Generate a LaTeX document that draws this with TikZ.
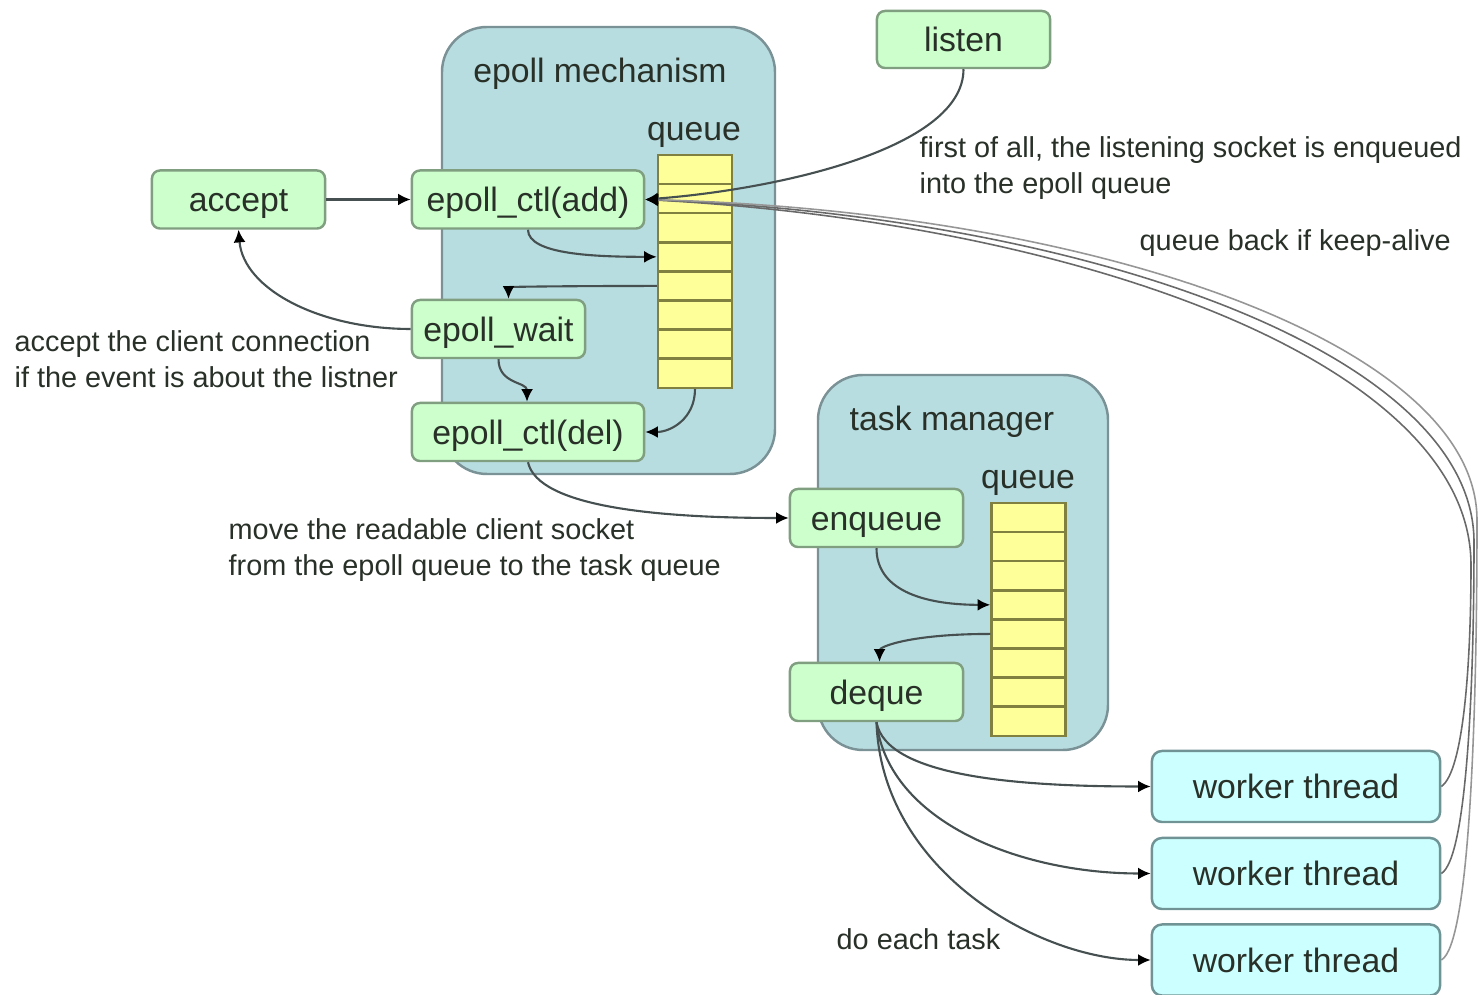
\documentclass[tikz,border=0pt]{standalone}
\usepackage{fontspec}
\setmainfont{Liberation Sans}
\usetikzlibrary{arrows.meta}

\definecolor{boxfill}{RGB}{184,221,225}
\definecolor{boxline}{RGB}{122,146,150}
\definecolor{opfill}{RGB}{204,255,204}
\definecolor{opline}{RGB}{128,158,128}
\definecolor{wkfill}{RGB}{204,255,255}
\definecolor{wkline}{RGB}{112,148,150}
\definecolor{qfill}{RGB}{255,255,153}
\definecolor{qline}{RGB}{128,128,64}
\definecolor{ink}{RGB}{40,48,40}
\definecolor{linkc}{RGB}{70,80,80}
\definecolor{backc}{RGB}{105,105,105}

\begin{document}
\begin{tikzpicture}[x=0.01cm,y=-0.01cm,
  container/.style={draw=boxline,fill=boxfill,line width=0.7pt,rounded corners=0.45cm},
  op/.style={draw=opline,fill=opfill,rounded corners=0.08cm,line width=0.7pt,
    inner sep=0pt,minimum height=0.58cm,minimum width=1.73cm,text=ink,
    text height=0.86em,text depth=0.16em,
    font=\fontsize{9.6}{11}\selectfont},
  wide/.style={minimum width=2.32cm},
  worker/.style={op,fill=wkfill,draw=wkline,minimum height=0.71cm,
    minimum width=2.88cm,rounded corners=0.1cm},
  cell/.style={draw=qline,fill=qfill,minimum width=0.74cm,minimum height=0.291cm,
    inner sep=0pt,line width=0.7pt},
  title/.style={font=\fontsize{9.6}{11}\selectfont,text=ink,inner sep=0pt,
    text height=0.86em,text depth=0.16em},
  note/.style={font=\fontsize{8.2}{10.2}\selectfont,text=ink,align=left,
    anchor=west,inner sep=0pt},
  tip/.style={-{Latex[length=3.6pt,width=3.4pt,color=black]}},
  link/.style={draw=linkc,line width=0.6pt,tip},
  back/.style={draw=backc,line width=0.45pt,tip}]

\useasboundingbox (0,0) rectangle (1478,995);

% containers
\draw[container] (442,27) rectangle (775,474);
\draw[container] (818,375) rectangle (1108,750);
\node[title] (t1) at (600,70) {epoll mechanism};
\node[title] (t2) at (694,128) {queue};
\node[title] (t3) at (952,418) {task manager};
\node[title] (t4) at (1028,476) {queue};

% queues
\foreach \i in {1,...,8}{
  \node[cell] (q\i) at (695,{169.55+29.1*(\i-1)}) {};
  \node[cell] (p\i) at (1028.5,{517.55+29.1*(\i-1)}) {};
}

% operations
\node[op] (accept) at (238.5,199.5) {accept};
\node[op,wide] (add) at (528,199.5) {epoll\_ctl(add)};
\node[op] (wait) at (498.5,329) {epoll\_wait};
\node[op,wide] (del) at (528,432) {epoll\_ctl(del)};
\node[op,minimum height=0.57cm] (listen) at (963.5,39.5) {listen};
\node[op] (enq) at (876.5,518) {enqueue};
\node[op] (deq) at (876.5,692) {deque};
\node[worker] (w1) at (1296,786.5) {worker thread};
\node[worker] (w2) at (1296,873.5) {worker thread};
\node[worker] (w3) at (1296,960) {worker thread};

% notes
\node[note] (n1) at (919,168) {first of all, the listening socket is enqueued\\into the epoll queue};
\node[note] (n2) at (1139,243) {queue back if keep-alive};
\node[note] (n3) at (14,359) {accept the client connection\\if the event is about the listner};
\node[note] (n4) at (228,550) {move the readable client socket\\from the epoll queue to the task queue};
\node[note] (n5) at (836,939) {do each task};

% return paths of the workers (quarter-ellipse sweep back to epoll_ctl(add))
\coordinate (r1) at (1471,565);
\coordinate (r2) at (1474,542);
\coordinate (r3) at (1477,520);
\draw[back] (w1.east) .. controls +(22,-15) and +(0,100) .. (r1)
  .. controls +(0,-200) and +(440,24) .. (add.east);
\draw[back] (w2.east) .. controls +(25,-15) and +(0,150) .. (r2)
  .. controls +(0,-188) and +(445,18) .. (add.east);
\draw[back,draw=backc!70] (w3.east) .. controls +(28,-15) and +(0,200) .. (r3)
  .. controls +(0,-176) and +(450,12) .. (add.east);

% epoll flow
\draw[link] (accept.east) -- (add.west);
\draw[link] (listen.south) .. controls +(0,80) and +(130,-10) .. (add.east);
\draw[link] (add.south) .. controls +(0,25) and +(-60,0) .. (q4.west);
\draw[link] (q5.west) .. controls +(-80,0) and +(0,-12) .. ([xshift=0.1cm]wait.north);
\draw[link] (wait.south) .. controls +(0,25) and +(0,-20) .. ([xshift=-0.01cm]del.north);
\draw[link] (q8.south) .. controls +(0,30) and +(25,0) .. (del.east);
\draw[link] (wait.west) .. controls +(-90,0) and +(5,60) .. (accept.south);
\draw[link] (del.south) .. controls +(10,45) and +(-130,0) .. (enq.west);

% task flow
\draw[link] (enq.south) .. controls +(0,45) and +(-60,0) .. (p4.west);
\draw[link] (p5.west) .. controls +(-80,0) and +(0,-15) .. ([xshift=0.03cm]deq.north);
\draw[link] (deq.south) .. controls +(10,55) and +(-130,0) .. (w1.west);
\draw[link] (deq.south) .. controls +(12,100) and +(-130,0) .. (w2.west);
\draw[link] (deq.south) .. controls +(5,150) and +(-110,0) .. (w3.west);

\end{tikzpicture}
\end{document}
